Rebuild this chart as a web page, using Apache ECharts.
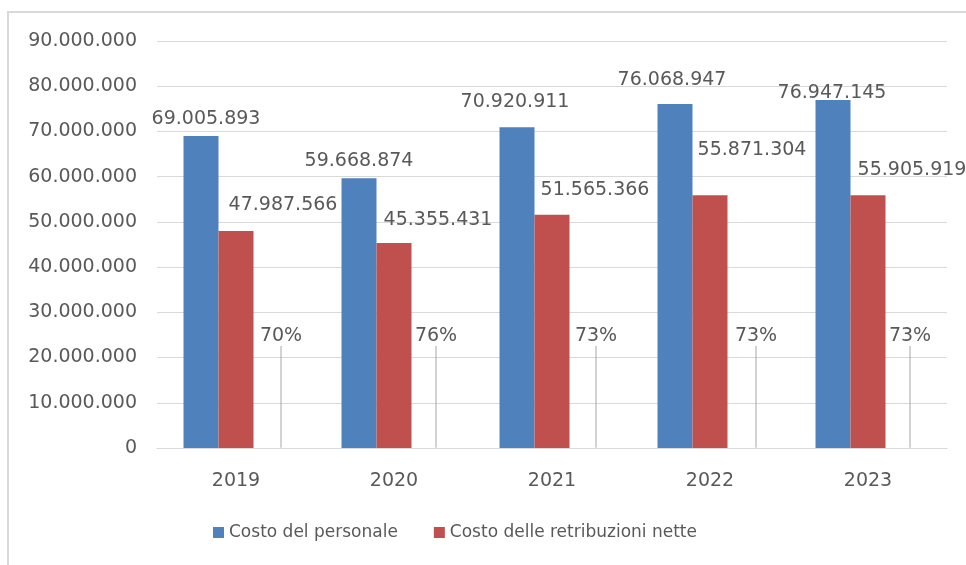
<!DOCTYPE html>
<html><head><meta charset="utf-8">
<script src="https://cdn.jsdelivr.net/npm/echarts@6/dist/echarts.min.js"></script>
<style>html,body{margin:0;padding:0;background:#fff}#c{width:966px;height:565px}</style>
</head><body><div id="c"></div>
<script>
const years = ['2019', '2020', '2021', '2022', '2023'];
const costoPersonale = [69005893, 59668874, 70920911, 76068947, 76947145];
const costoRetribuzioni = [47987566, 45355431, 51565366, 55871304, 55905919];
const rapportoPct = [70, 76, 73, 73, 73];
const seriesNames = ['Costo del personale', 'Costo delle retribuzioni nette'];

function fmtIt(v) { return String(Math.round(v)).replace(/\B(?=(\d{3})+(?!\d))/g, '.'); }

const FONT = 'DejaVu Sans';
const TXT = '#595959';
const GRIDC = '#d9d9d9';
// manual label displacements (px) relative to bar top-centre, as in the source chart
const blueOff = [[5, -17], [0, -17], [-2, -25], [-3, -24], [-1, -7]];
const redOff = [[47, -26], [44, -23], [43, -25], [42, -45], [44, -25]];
const pctOff = [10, 7, 9, 11, 7];

function topLayout(off) {
  return function (p) {
    const o = off[p.dataIndex];
    return { x: p.rect.x + p.rect.width / 2 + o[0], y: p.rect.y + o[1], align: 'center', verticalAlign: 'middle' };
  };
}

const chart = echarts.init(document.getElementById('c'), null, { renderer: 'canvas' });
chart.setOption({
  animation: false,
  backgroundColor: '#fff',
  graphic: [{
    type: 'rect', silent: true, z: -10,
    shape: { x: 8, y: 12, width: 1000, height: 600 },
    style: { fill: 'none', stroke: GRIDC, lineWidth: 2 }
  }],
  grid: { left: 157, right: 19, top: 41, bottom: 117 },
  legend: {
    data: seriesNames, left: 208, top: 519,
    itemWidth: 11, itemHeight: 11, itemGap: 36, icon: 'rect',
    textStyle: { fontFamily: FONT, fontSize: 17, color: TXT }
  },
  xAxis: {
    type: 'category', data: years,
    axisLine: { lineStyle: { color: GRIDC, width: 1 } },
    axisTick: { show: false },
    axisLabel: { fontFamily: FONT, fontSize: 19, color: TXT, margin: 24 }
  },
  yAxis: [{
    type: 'value', min: 0, max: 90000000, interval: 10000000,
    axisLine: { show: false }, axisTick: { show: false },
    splitLine: { lineStyle: { color: GRIDC, width: 1 } },
    axisLabel: { fontFamily: FONT, fontSize: 19, color: TXT, margin: 20, formatter: fmtIt }
  }, {
    type: 'value', min: 0, max: 100000, show: false, splitLine: { show: false }
  }],
  series: [{
    name: seriesNames[0], type: 'bar', data: costoPersonale,
    barWidth: 35, barGap: '0%',
    itemStyle: { color: '#4f81bd' },
    label: { show: true, position: 'top', fontFamily: FONT, fontSize: 19, color: TXT, formatter: p => fmtIt(p.value) },
    labelLayout: topLayout(blueOff)
  }, {
    name: seriesNames[1], type: 'bar', data: costoRetribuzioni,
    barWidth: 35, barGap: '0%',
    itemStyle: { color: '#c0504d' },
    label: { show: true, position: 'top', fontFamily: FONT, fontSize: 19, color: TXT, formatter: p => fmtIt(p.value) },
    labelLayout: topLayout(redOff)
  }, {
    name: 'Rapporto', type: 'bar', data: rapportoPct, yAxisIndex: 1,
    barWidth: 35, barGap: '0%',
    itemStyle: { color: 'rgba(0,0,0,0)' },
    label: { show: true, position: 'insideBottom', fontFamily: FONT, fontSize: 19, color: TXT,
      padding: [0, 0, 7, 0], formatter: p => p.value + '%' },
    labelLine: { show: true, length2: 0, lineStyle: { color: '#a6a6a6', width: 1 } },
    labelLayout: function (p) {
      return { x: p.rect.x + p.rect.width / 2 + pctOff[p.dataIndex], y: p.rect.y + p.rect.height - 95, align: 'center', verticalAlign: 'bottom' };
    }
  }]
});
</script>
</body></html>
